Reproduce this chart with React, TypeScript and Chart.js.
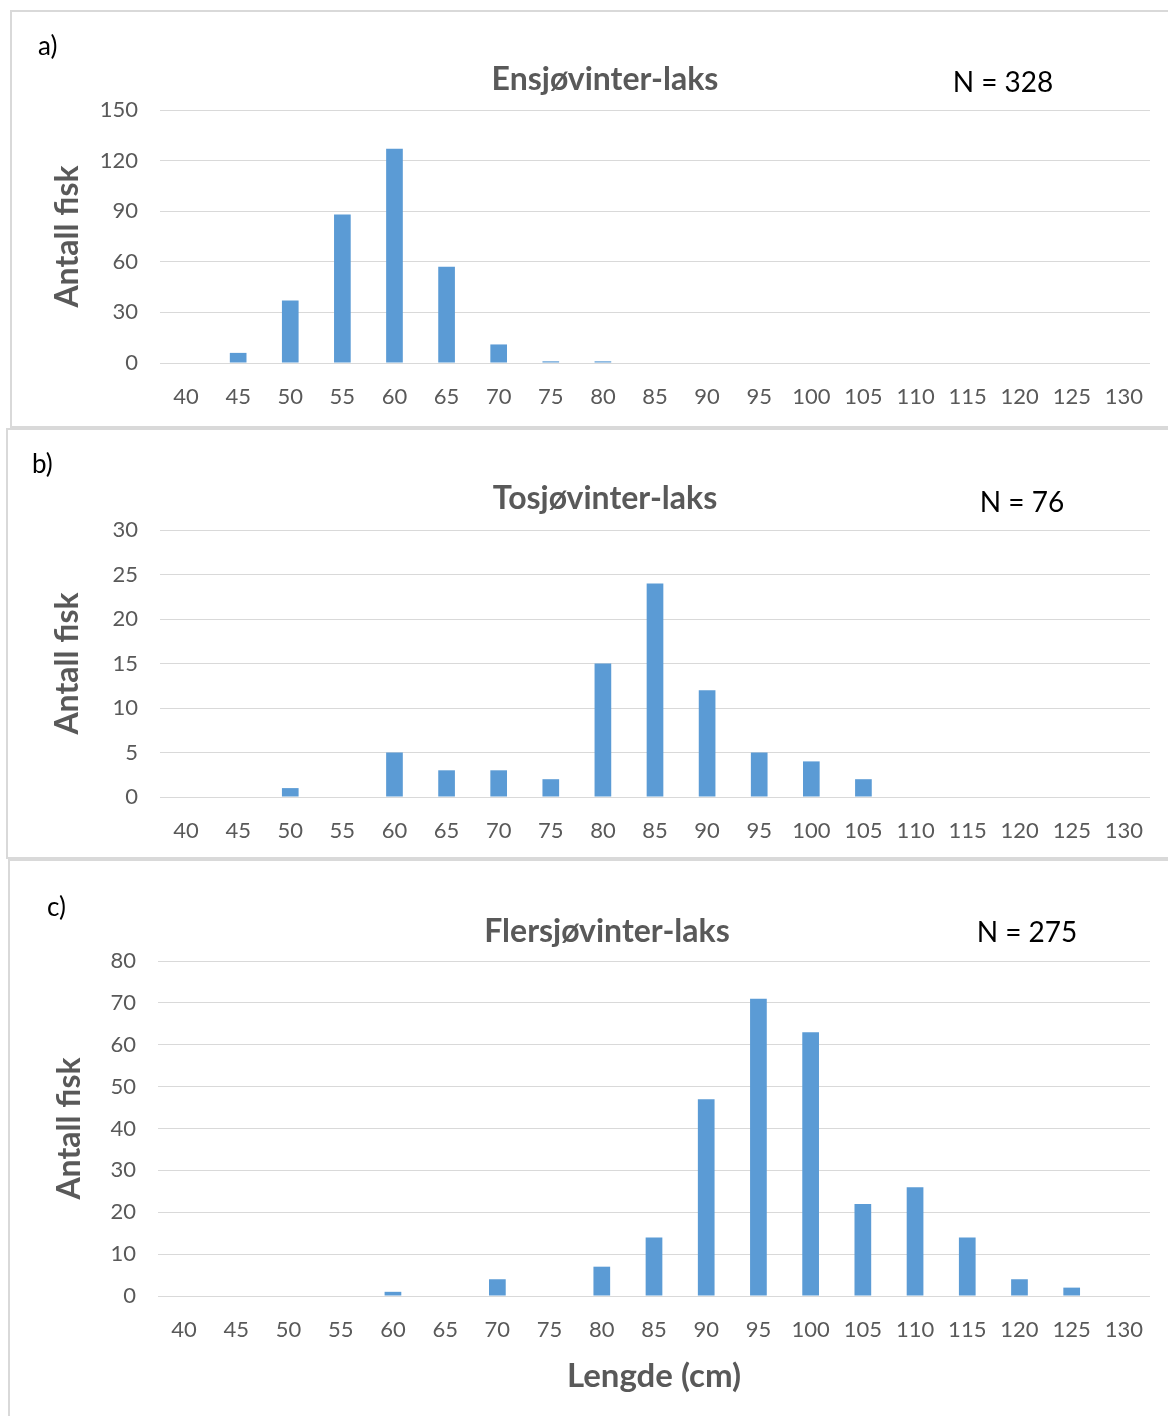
import React, { useEffect, useRef } from "react";
import { Chart, registerables } from "chart.js";

Chart.register(...registerables);

const categories = ["40", "45", "50", "55", "60", "65", "70", "75", "80", "85", "90", "95", "100", "105", "110", "115", "120", "125", "130"];
const ensjoValues = [0, 6, 37, 88, 127, 57, 11, 1, 1, 0, 0, 0, 0, 0, 0, 0, 0, 0, 0];
const tosjoValues = [0, 0, 1, 0, 5, 3, 3, 2, 15, 24, 12, 5, 4, 2, 0, 0, 0, 0, 0];
const flersjoValues = [0, 0, 0, 0, 1, 0, 4, 0, 7, 14, 47, 71, 63, 22, 26, 14, 4, 2, 0];

const yAxisMax = [150, 30, 80];
const yAxisStep = [30, 5, 10];
const panelLetters = ["a)", "b)", "c)"];
const panelTitles = ["Ensjøvinter-laks", "Tosjøvinter-laks", "Flersjøvinter-laks"];
const panelCounts = ["N = 328", "N = 76", "N = 275"];

const FONT = 'Lato, "Open Sans", "DejaVu Sans", sans-serif';
const GRAY = "#595959";
const BAR = "#5B9BD5";

type Box = { x: number; y: number; w: number; h: number };
type Plot = { left: number; right: number; top: number; bottom: number };

type PanelCfg = {
  border: Box;
  canvas: Box;
  plot: Plot;
  values: number[];
  yMax: number;
  yStep: number;
  letter: string;
  letterPos: { x: number; y: number };
  title: string;
  titlePos: { x: number; y: number };
  count: string;
  countPos: { x: number; y: number };
  yTitleX: number;
  xTitleY?: number;
};

const panels: PanelCfg[] = [
  {
    border: { x: 10, y: 10, w: 1180, h: 418 },
    canvas: { x: 12, y: 12, w: 1156, h: 414 },
    plot: { left: 160, right: 1150, top: 110, bottom: 363 },
    values: ensjoValues,
    yMax: yAxisMax[0],
    yStep: yAxisStep[0],
    letter: panelLetters[0],
    letterPos: { x: 38, y: 45 },
    title: panelTitles[0],
    titlePos: { x: 605, y: 78 },
    count: panelCounts[0],
    countPos: { x: 1003, y: 81 },
    yTitleX: 68,
  },
  {
    border: { x: 6, y: 428, w: 1180, h: 431 },
    canvas: { x: 8, y: 430, w: 1160, h: 427 },
    plot: { left: 160, right: 1150, top: 530, bottom: 797 },
    values: tosjoValues,
    yMax: yAxisMax[1],
    yStep: yAxisStep[1],
    letter: panelLetters[1],
    letterPos: { x: 32, y: 463 },
    title: panelTitles[1],
    titlePos: { x: 605, y: 497 },
    count: panelCounts[1],
    countPos: { x: 1022, y: 501 },
    yTitleX: 68,
  },
  {
    border: { x: 8, y: 859, w: 1180, h: 600 },
    canvas: { x: 10, y: 861, w: 1158, h: 555 },
    plot: { left: 158, right: 1150, top: 961, bottom: 1296 },
    values: flersjoValues,
    yMax: yAxisMax[2],
    yStep: yAxisStep[2],
    letter: panelLetters[2],
    letterPos: { x: 47, y: 906 },
    title: panelTitles[2],
    titlePos: { x: 607, y: 930 },
    count: panelCounts[2],
    countPos: { x: 1027, y: 931 },
    yTitleX: 70,
    xTitleY: 1376,
  },
];

function Panel({ cfg }: { cfg: PanelCfg }) {
  const ref = useRef<HTMLCanvasElement>(null);

  useEffect(() => {
    const c = cfg.canvas;
    const p = cfg.plot;
    const titleFontSize = 32;
    const half = (titleFontSize * 1.2) / 2;
    const chart = new Chart(ref.current as HTMLCanvasElement, {
      type: "bar",
      data: {
        labels: categories,
        datasets: [
          {
            data: cfg.values,
            backgroundColor: BAR,
            borderWidth: 0,
            barPercentage: 0.32,
            categoryPercentage: 1,
          },
        ],
      },
      options: {
        animation: false,
        responsive: false,
        maintainAspectRatio: false,
        layout: {
          padding: { top: p.top - c.y, right: c.x + c.w - p.right, left: 0, bottom: 0 },
        },
        plugins: {
          legend: { display: false },
          tooltip: { enabled: false },
          title: { display: false },
        },
        scales: {
          x: {
            grid: { display: false, drawTicks: false },
            border: { display: false },
            ticks: {
              color: GRAY,
              font: { family: FONT, size: 22 },
              padding: 21,
              maxRotation: 0,
              autoSkip: false,
            },
            title: cfg.xTitleY
              ? {
                  display: true,
                  text: "Lengde (cm)",
                  color: GRAY,
                  font: { family: FONT, size: 33, weight: "bold" },
                  padding: { top: 0, bottom: c.y + c.h - cfg.xTitleY - (33 * 1.2) / 2 },
                }
              : { display: false },
            afterFit: (s: any) => {
              s.height = c.y + c.h - p.bottom;
            },
          },
          y: {
            min: 0,
            max: cfg.yMax,
            ticks: {
              stepSize: cfg.yStep,
              color: GRAY,
              font: { family: FONT, size: 22 },
              padding: 22,
            },
            grid: { color: "#d9d9d9", lineWidth: 1, drawTicks: false },
            border: { display: false },
            title: {
              display: true,
              text: "Antall fisk",
              color: GRAY,
              font: { family: FONT, size: titleFontSize, weight: "bold" },
              padding: { top: cfg.yTitleX - c.x - half, bottom: 0 },
            },
            afterFit: (s: any) => {
              s.width = p.left - c.x;
            },
          },
        },
      } as any,
    });
    return () => chart.destroy();
  }, [cfg]);

  const textBase: React.CSSProperties = {
    position: "absolute",
    transform: "translate(-50%, -50%)",
    whiteSpace: "nowrap",
    lineHeight: 1,
    fontFamily: FONT,
  };

  return (
    <>
      <div
        style={{
          position: "absolute",
          left: cfg.border.x,
          top: cfg.border.y,
          width: cfg.border.w,
          height: cfg.border.h,
          border: "2px solid #d9d9d9",
          boxSizing: "border-box",
          background: "#fff",
        }}
      />
      <canvas
        ref={ref}
        width={cfg.canvas.w}
        height={cfg.canvas.h}
        style={{
          position: "absolute",
          left: cfg.canvas.x,
          top: cfg.canvas.y,
          width: cfg.canvas.w,
          height: cfg.canvas.h,
        }}
      />
      <div
        style={{
          position: "absolute",
          left: cfg.letterPos.x,
          top: cfg.letterPos.y,
          transform: "translateY(-50%)",
          lineHeight: 1,
          fontFamily: FONT,
          fontSize: 26,
          color: "#000",
        }}
      >
        {cfg.letter}
      </div>
      <div
        style={{
          ...textBase,
          left: cfg.titlePos.x,
          top: cfg.titlePos.y,
          fontSize: 32,
          fontWeight: "bold",
          color: GRAY,
        }}
      >
        {cfg.title}
      </div>
      <div
        style={{
          ...textBase,
          left: cfg.countPos.x,
          top: cfg.countPos.y,
          fontSize: 28,
          color: "#000",
        }}
      >
        {cfg.count}
      </div>
    </>
  );
}

export default function App() {
  return (
    <div
      style={{
        position: "absolute",
        left: 0,
        top: 0,
        width: 1168,
        height: 1416,
        overflow: "hidden",
        background: "#fff",
      }}
    >
      {panels.map((cfg, i) => (
        <Panel key={i} cfg={cfg} />
      ))}
    </div>
  );
}
